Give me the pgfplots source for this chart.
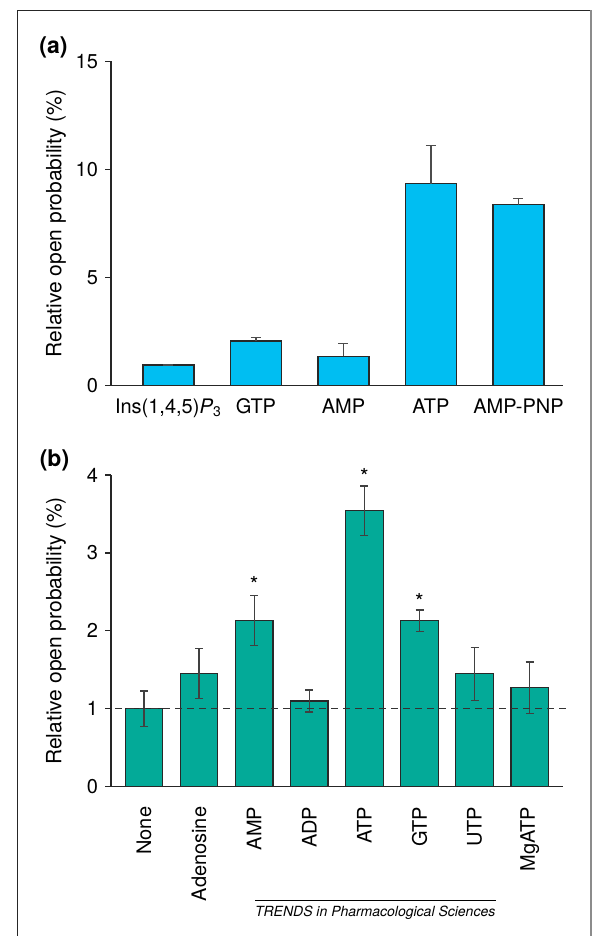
\documentclass[border=0pt]{standalone}
\usepackage{pgfplots}
\pgfplotsset{compat=1.18}
\usepackage{pgfplotstable}
\usepackage{fontspec}
\setmainfont{TeX Gyre Heros}
\definecolor{cyanbar}{RGB}{0,190,242}
\definecolor{tealbar}{RGB}{3,170,152}
\definecolor{edge}{RGB}{40,40,40}

\pgfplotstableread{
x y e
0 0.95 0
1 2.06 0.15
2 1.35 0.59
3 9.33 1.77
4 8.36 0.29
}\dataA

\pgfplotstableread{
x y e
0 1.00 0.23
1 1.45 0.32
2 2.13 0.32
3 1.10 0.14
4 3.54 0.32
5 2.13 0.14
6 1.45 0.34
7 1.27 0.33
}\dataB

\pgfplotsset{
  common/.style={
    scale only axis,
    axis lines*=left,
    axis line style={line width=0.6pt, black!85},
    ytick style={line width=0.6pt, black!85},
    tick align=outside,
    major tick length=3pt,
    xtick style={draw=none},
    xtick=data,
    tick label style={font=\fontsize{10}{12}\selectfont},
    /pgf/number format/assume math mode=true,
    ylabel={Relative open probability (\%)},
    every axis y label/.style={at={(axis description cs:-0.1217,0.5)}, anchor=center, rotate=90, font=\fontsize{10.5}{12}\selectfont},
    clip=false,
  }
}

\begin{document}
\begin{tikzpicture}[x=1pt,y=1pt]
\useasboundingbox (0,0) rectangle (296,-468);
\draw[line width=0.6pt, black!85] (8.65,-468) -- (8.65,-5.15) -- (295.3,-5.15);
\draw[line width=1pt, black!45] (295.3,-5.15) -- (295.3,-468);

\node[font=\fontsize{11.5}{13}\selectfont\bfseries] at (26.75,-23.9) {(a)};
\node[font=\fontsize{11.5}{13}\selectfont\bfseries] at (27.25,-230) {(b)};

\begin{axis}[common,
  at={(55.5pt,-192.75pt)}, anchor=south west,
  width=226pt, height=162.1pt,
  xmin=-0.657, xmax=4.509, ymin=0, ymax=15,
  ytick={0,5,10,15},
  xticklabels={{Ins(1,4,5)\textit{P}\textsubscript{3}},GTP,AMP,ATP,AMP-PNP},
]
\addplot[ybar, bar width=25.5pt, bar shift=0pt, fill=cyanbar, draw=edge, line width=0.6pt,
  error bars/.cd, y dir=plus, y explicit,
  error bar style={line width=0.7pt, black!70},
  error mark options={rotate=90, mark size=2.5pt, line width=0.7pt, black!70}]
  table[x=x, y=y, y error=e] {\dataA};
\end{axis}

\begin{axis}[common,
  at={(55.5pt,-393.35pt)}, anchor=south west,
  width=226.15pt, height=155.85pt,
  xmin=-0.599, xmax=7.61, ymin=0, ymax=4,
  ytick={0,1,2,3,4},
  xticklabels={None,Adenosine,AMP,ADP,ATP,GTP,UTP,MgATP},
  xticklabel style={rotate=90, anchor=east},
  xticklabel shift=3.5pt,
]
\addplot[ybar, bar width=18.75pt, bar shift=0pt, fill=tealbar, draw=edge, line width=0.6pt,
  error bars/.cd, y dir=both, y explicit,
  error bar style={line width=0.7pt, black!75},
  error mark options={rotate=90, mark size=2pt, line width=0.7pt, black!75}]
  table[x=x, y=y, y error=e] {\dataB};
\addplot[sharp plot, black!80, line width=0.6pt, dash pattern=on 3.5pt off 2.5pt]
  coordinates {(-0.526,1) (7.68,1)};
\addplot[only marks, mark=text, text mark={*}, text mark as node=true,
  text mark style={anchor=base, font=\fontsize{11}{12}\selectfont}]
  coordinates {(2,2.49) (4,3.872) (5,2.275)};
\end{axis}

\draw[line width=0.5pt] (127.5,-450) -- (247.85,-450);
\node[anchor=base east, inner sep=0pt, font=\fontsize{7}{8}\selectfont\itshape] at (247.85,-458) {TRENDS in Pharmacological Sciences};
\end{tikzpicture}
\end{document}
